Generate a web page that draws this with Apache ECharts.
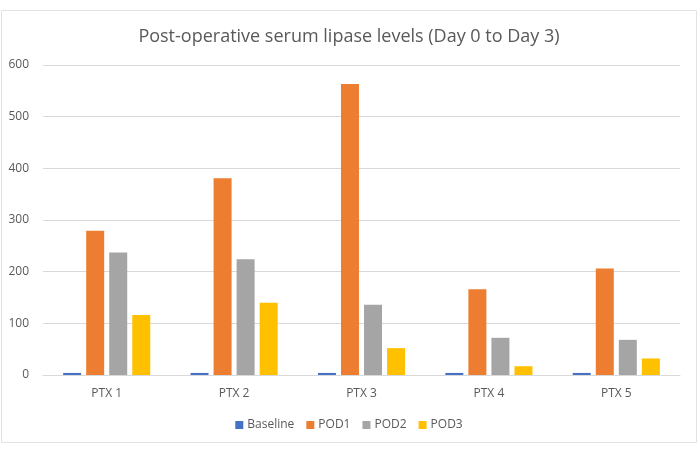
<!DOCTYPE html>
<html><head><meta charset="utf-8">
<script src="https://cdn.jsdelivr.net/npm/echarts@6/dist/echarts.min.js"></script>
<style>html,body{margin:0;padding:0;background:#fff}#c{width:698px;height:455px}</style>
</head><body><div id="c"></div>
<script>
const categories = ['PTX 1','PTX 2','PTX 3','PTX 4','PTX 5'];
const seriesNames = ['Baseline','POD1','POD2','POD3'];
const baseline = [4, 4, 4, 4, 4];
const pod1 = [279, 381, 563, 166, 206];
const pod2 = [237, 224, 136, 72, 68];
const pod3 = [116, 140, 52, 17, 32];
const colors = ['#4472C4','#ED7D31','#A5A5A5','#FFC000'];
const values = [baseline, pod1, pod2, pod3];
const font = "'Open Sans', 'Liberation Sans', sans-serif";

const chart = echarts.init(document.getElementById('c'), null, {renderer:'canvas'});
chart.setOption({
  animation:false,
  backgroundColor:'#fff',
  graphic:[{type:'rect', shape:{x:1.5,y:10.5,width:695,height:432}, style:{fill:'none', stroke:'#e3e3e3', lineWidth:1}, silent:true}],
  title:{text:'Post-operative serum lipase levels (Day 0 to Day 3)', left:'center', top:23,
    textStyle:{fontFamily:font, fontSize:18, fontWeight:'normal', color:'#595959'}},
  legend:{bottom:19, left:'center', itemWidth:8, itemHeight:8, itemGap:12, icon:'rect',
    textStyle:{fontFamily:font, fontSize:12, color:'#595959', padding:[0,0,0,-1]}, data:seriesNames},
  grid:{left:43, right:18, top:65, bottom:80, containLabel:false},
  xAxis:{type:'category', data:categories,
    axisLine:{lineStyle:{color:'#d9d9d9'}}, axisTick:{show:false},
    axisLabel:{fontFamily:font, fontSize:12, color:'#595959', margin:13}},
  yAxis:{type:'value', min:0, max:600, interval:100,
    axisLine:{show:false}, axisTick:{show:false},
    splitLine:{lineStyle:{color:'#d9d9d9'}},
    axisLabel:{fontFamily:font, fontSize:12, color:'#595959', margin:14}},
  series: seriesNames.map((n,i)=>({name:n, type:'bar', data:values[i], barWidth:18, barGap:'28%',
    itemStyle:{color:colors[i]}}))
});
</script></body></html>
